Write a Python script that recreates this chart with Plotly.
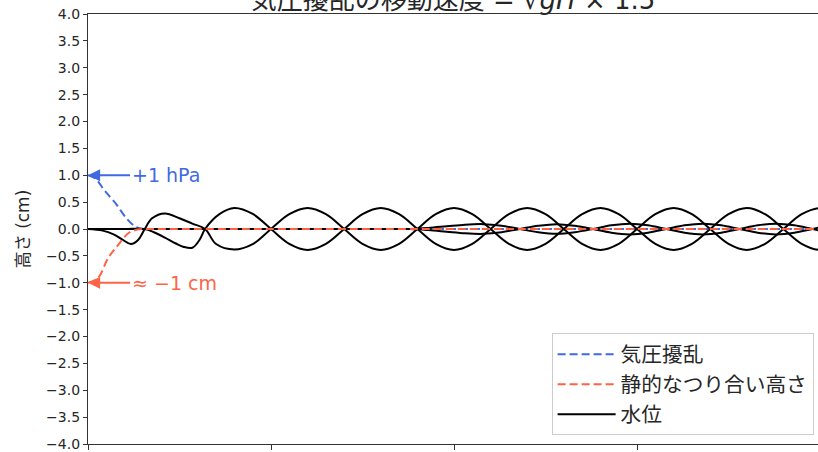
import plotly.graph_objects as go

# Pressure disturbance (hPa) near the left boundary
x_pressure = [0, 4, 9, 15, 21, 26, 30, 34, 38, 400]
pressure = [1.0, 0.94, 0.72, 0.48, 0.2, 0.04, 0.0, 0.0, 0.0, 0.0]

# Static-balance (inverse barometer) height (cm)
x_balance = [0, 5.5, 11, 16.4, 22, 27, 31, 35, 39, 400]
balance = [-1.0, -0.91, -0.54, -0.3, -0.08, -0.01, 0.0, 0.0, 0.0, 0.0]

# Water level snapshots (cm)
x_level_a = [0, 8, 14, 19, 23.5, 27.5, 31, 35, 42, 50, 57, 64, 70, 80, 90, 100,
             110, 120, 130, 140, 150, 160, 170, 180, 190, 200, 210, 220,
             230, 240, 250, 260, 270, 280, 290, 300, 310, 320, 330, 340,
             350, 360, 370, 380, 390, 400, 410, 420]
level_a = [0, -0.03, -0.1, -0.2, -0.28, -0.2, 0, 0.2, 0.29, 0.2, 0.1, 0, -0.28, -0.38, -0.28, 0,
           0.276, 0.39, 0.276, 0, -0.276, -0.39, -0.276, 0, 0.276, 0.39, 0.276, 0,
           -0.276, -0.39, -0.276, 0, 0.276, 0.39, 0.276, 0, -0.276, -0.39, -0.276, 0,
           0.276, 0.39, 0.276, 0, -0.276, -0.39, -0.276, 0]

x_level_b = [0, 20, 31, 36, 42, 48, 52, 57, 61, 64, 72, 80, 90, 100,
             110, 120, 130, 140, 150, 160, 170, 180, 190, 200, 210, 220,
             230, 240, 250, 260, 270, 280, 290, 300, 310, 320, 330, 340,
             350, 360, 370, 380, 390, 400, 410, 420]
level_b = [0, 0, 0, -0.06, -0.16, -0.27, -0.33, -0.35, -0.2, 0, 0.28, 0.39, 0.28, 0,
           -0.276, -0.39, -0.276, 0, 0.276, 0.39, 0.276, 0, -0.276, -0.39, -0.276, 0,
           0.276, 0.39, 0.276, 0, -0.276, -0.39, -0.276, 0, 0.276, 0.39, 0.276, 0,
           -0.276, -0.39, -0.276, 0, 0.276, 0.39, 0.276, 0]

x_level_c = [0, 160, 176, 186, 196, 206, 216, 226, 236, 246, 256, 266, 276, 286, 296,
             306, 316, 326, 336, 346, 356, 366, 376, 386, 396, 406, 416]
level_c = [0, 0, 0, 0.02, 0.05, 0.08, 0.09, 0.06, 0, -0.06, -0.09, -0.06, 0, 0.07, 0.1,
           0.07, 0, -0.07, -0.1, -0.07, 0, 0.07, 0.1, 0.07, 0, -0.07, -0.1]
x_level_d = x_level_c
level_d = [0, 0, 0, -0.02, -0.05, -0.08, -0.09, -0.06, 0, 0.06, 0.09, 0.06, 0, -0.07, -0.1,
           -0.07, 0, 0.07, 0.1, 0.07, 0, -0.07, -0.1, -0.07, 0, 0.07, 0.1]

y_ticks = [-4.0, -3.5, -3.0, -2.5, -2.0, -1.5, -1.0, -0.5, 0.0,
           0.5, 1.0, 1.5, 2.0, 2.5, 3.0, 3.5, 4.0]
x_ticks = [0, 100, 200, 300]

BLUE = "#4169e1"
RED = "#ff6347"
FONT = "DejaVu Sans, Noto Sans CJK JP, sans-serif"

fig = go.Figure()

fig.add_trace(go.Scatter(
    x=x_pressure, y=pressure, mode="lines", name="気圧擾乱",
    line=dict(color=BLUE, width=2, dash="8px,4px", shape="spline"),
    legendrank=1,
))

levels = [(x_level_a, level_a), (x_level_b, level_b),
          (x_level_c, level_c), (x_level_d, level_d)]
for i, (xs, ys) in enumerate(levels):
    fig.add_trace(go.Scatter(
        x=xs, y=ys, mode="lines", name="水位",
        line=dict(color="black", width=2, shape="spline", smoothing=1),
        showlegend=(i == 0), legendrank=3,
    ))

fig.add_trace(go.Scatter(
    x=x_balance, y=balance, mode="lines", name="静的なつり合い高さ",
    line=dict(color=RED, width=2, dash="8px,4px", shape="spline"),
    legendrank=2,
))

# Arrows marking the forcing amplitude and the balanced height
for y0, text, color in [(pressure[0], "+1 hPa", BLUE), (balance[0], "≈ −1 cm", RED)]:
    fig.add_annotation(
        x=x_pressure[0], y=y0, ax=23, ay=y0, xref="x", yref="y", axref="x", ayref="y",
        text=text, showarrow=True, arrowhead=2, arrowsize=1.1, arrowwidth=2.2,
        arrowcolor=color, xanchor="left", yanchor="middle",
        font=dict(color=color, size=19, family=FONT), standoff=0,
    )

fig.update_layout(
    width=818, height=452,
    margin=dict(l=88, r=0, t=14, b=8),
    paper_bgcolor="white", plot_bgcolor="white",
    font=dict(family=FONT, color="#262626"),
    title=dict(text="気圧擾乱の移動速度 = √<i>gH</i> × 1.5", x=0.5, xref="paper",
               y=1.0, yref="container", yanchor="middle", xanchor="center",
               font=dict(size=26, color="#262626")),
    legend=dict(x=0.994, y=0.02, xanchor="right", yanchor="bottom",
                bgcolor="rgba(255,255,255,0.85)", bordercolor="#cccccc", borderwidth=1,
                font=dict(size=20.7), tracegroupgap=0, itemwidth=58),
    showlegend=True,
)

fig.update_xaxes(range=[0, 398.9], tickvals=x_ticks, showticklabels=False,
                 ticks="outside", ticklen=5, tickcolor="#333333", tickwidth=1,
                 showline=True, linecolor="#333333", linewidth=1.2, mirror=True,
                 showgrid=False, zeroline=False)
fig.update_yaxes(range=[-4.0, 4.0], tickvals=y_ticks, tickformat=".1f",
                 ticks="outside", ticklen=4, tickcolor="#333333", tickwidth=1,
                 showline=True, linecolor="#333333", linewidth=1.2, mirror=False,
                 showgrid=False, zeroline=False, tickfont=dict(size=14),
                 ticklabeloverflow="allow",
                 title=dict(text="高さ (cm)", font=dict(size=17), standoff=12))

fig.write_html("out.html")
